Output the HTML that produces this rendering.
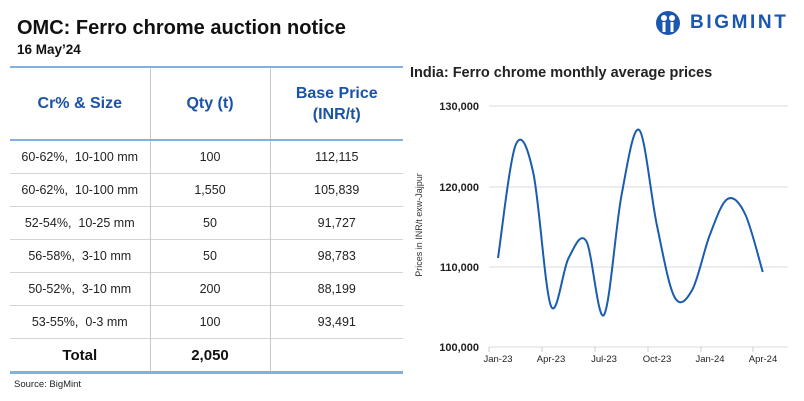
<!DOCTYPE html>
<html><head><meta charset="utf-8"><style>
body{margin:0;width:804px;height:401px;background:#fff;font-family:"Liberation Sans",sans-serif;position:relative;overflow:hidden}
.a{position:absolute;white-space:nowrap}
table{position:absolute;left:10px;top:66px;width:393px;border-collapse:collapse;table-layout:fixed}
td{text-align:center;font-size:12.5px;color:#222;height:32px;border-top:1px solid #d4d4d4;padding:0}
td+td{border-left:1.5px solid #c8c8c8}
tr.h td{height:71px;color:#1a52a6;font-weight:bold;font-size:16px;border-top:2.5px solid #7fb2e0;border-bottom:2px solid #7fb2e0;line-height:21px}
tr.t td{font-weight:bold;font-size:15px;color:#111;border-bottom:3px solid #7fb2e0}
</style></head><body>
<div class="a" style="left:17px;top:17px;font-size:20px;font-weight:bold;color:#111">OMC: Ferro chrome auction notice</div>
<div class="a" style="left:17px;top:42px;font-size:13.5px;font-weight:bold;color:#111">16 May’24</div>
<table>
<colgroup><col style="width:140px"><col style="width:120px"><col></colgroup>
<tr class="h"><td>Cr% &amp; Size</td><td>Qty (t)</td><td>Base Price<br>(INR/t)</td></tr>
<tr><td>60-62%,&nbsp; 10-100 mm</td><td>100</td><td>112,115</td></tr>
<tr><td>60-62%,&nbsp; 10-100 mm</td><td>1,550</td><td>105,839</td></tr>
<tr><td>52-54%,&nbsp; 10-25 mm</td><td>50</td><td>91,727</td></tr>
<tr><td>56-58%,&nbsp; 3-10 mm</td><td>50</td><td>98,783</td></tr>
<tr><td>50-52%,&nbsp; 3-10 mm</td><td>200</td><td>88,199</td></tr>
<tr><td>53-55%,&nbsp; 0-3 mm</td><td>100</td><td>93,491</td></tr>
<tr class="t"><td>Total</td><td>2,050</td><td></td></tr>
</table>
<div class="a" style="left:14px;top:379px;font-size:9.5px;color:#222">Source: BigMint</div>
<svg class="a" style="left:655px;top:10px" width="26" height="26" viewBox="0 0 26 26"><circle cx="13" cy="13" r="12" fill="#1a57b0"/><circle cx="9" cy="8" r="3" fill="#fff"/><circle cx="17" cy="8" r="3" fill="#fff"/><rect x="7.5" y="12" width="3" height="10" fill="#fff"/><rect x="15.5" y="12" width="3" height="10" fill="#fff"/></svg>
<div class="a" style="left:690px;top:12px;font-size:19px;font-weight:bold;color:#1a57b0;letter-spacing:2.6px">BIGMINT</div>
<div class="a" style="left:410px;top:65px;font-size:14.5px;font-weight:bold;color:#222">India: Ferro chrome monthly average prices</div>
<svg class="a" style="left:0;top:0" width="804" height="401">
<g stroke="#e2e2e2" stroke-width="1.2"><line x1="489" x2="788" y1="106" y2="106"/><line x1="489" x2="788" y1="187" y2="187"/><line x1="489" x2="788" y1="267" y2="267"/><line x1="489" x2="788" y1="347" y2="347"/></g>
<g stroke="#ccc"><line x1="542" x2="542" y1="347" y2="352"/><line x1="595" x2="595" y1="347" y2="352"/><line x1="648" x2="648" y1="347" y2="352"/><line x1="701" x2="701" y1="347" y2="352"/><line x1="753" x2="753" y1="347" y2="352"/><line x1="489" x2="489" y1="347" y2="352"/></g>
<g font-size="11" font-weight="bold" fill="#222" text-anchor="end"><text x="479" y="110">130,000</text><text x="479" y="191">120,000</text><text x="479" y="271">110,000</text><text x="479" y="351">100,000</text></g>
<g font-size="9.5" fill="#222" text-anchor="middle"><text x="498" y="362">Jan-23</text><text x="551" y="362">Apr-23</text><text x="604" y="362">Jul-23</text><text x="657" y="362">Oct-23</text><text x="710" y="362">Jan-24</text><text x="763" y="362">Apr-24</text></g>
<text transform="translate(422,225) rotate(-90)" font-size="9" fill="#333" text-anchor="middle">Prices in INR/t exw-Jajpur</text>
<path id="ln" fill="none" stroke="#1a5cb0" stroke-width="2"/>
</svg>
<script>
var ys=[258,145,173,306,258,241,315,195,130,225,297,290,235,199,214,272];
var p=ys.map(function(y,i){return [498+i*17.65,y]});
var d="M"+p[0][0]+","+p[0][1];
for(var i=0;i<p.length-1;i++){var a=p[i-1]||p[i],b=p[i],c=p[i+1],e=p[i+2]||c;
d+=" C"+(b[0]+(c[0]-a[0])/6)+","+(b[1]+(c[1]-a[1])/6)+" "+(c[0]-(e[0]-b[0])/6)+","+(c[1]-(e[1]-b[1])/6)+" "+c[0]+","+c[1];}
document.getElementById("ln").setAttribute("d",d);
</script>
</body></html>
